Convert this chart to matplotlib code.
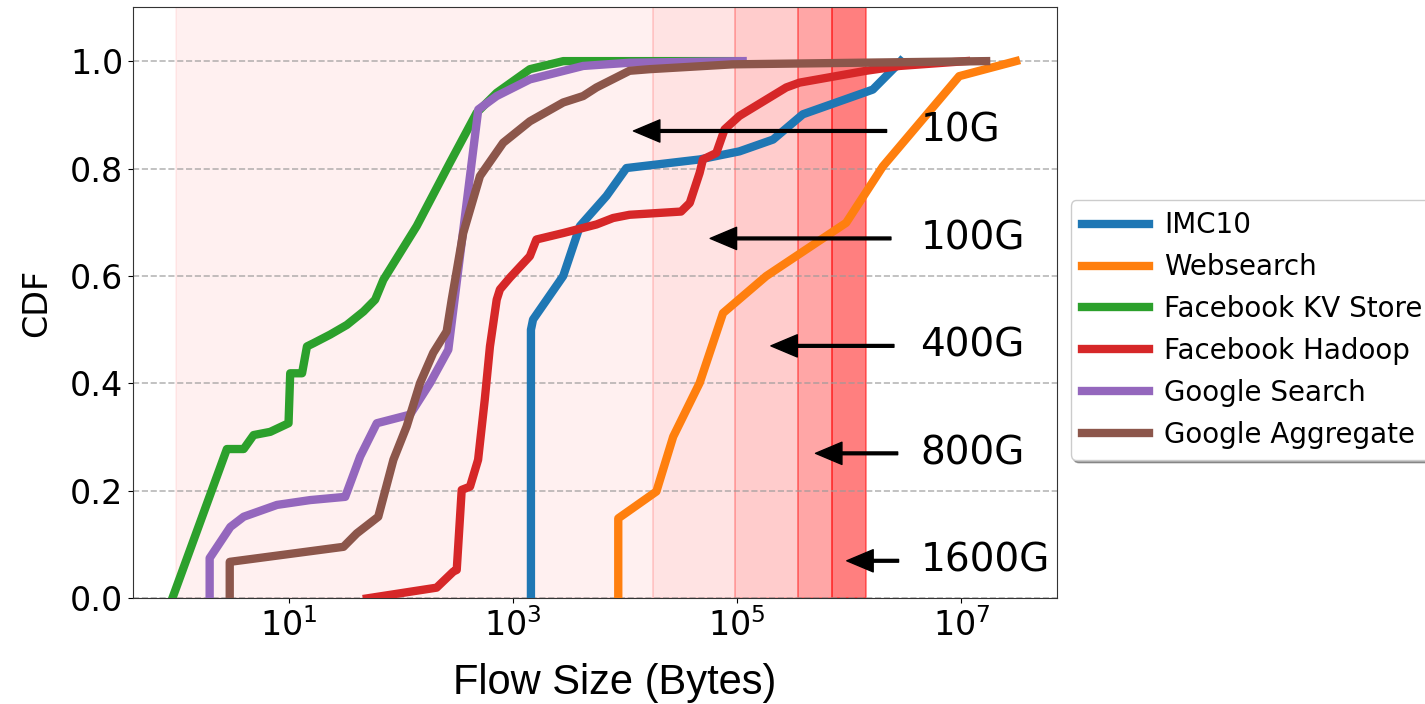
import matplotlib
matplotlib.use("Agg")
import matplotlib.pyplot as plt
from matplotlib import font_manager
from matplotlib.ticker import NullLocator

# flow size CDFs (bytes, cdf)
imc10_x = [1450, 1450, 1514, 2812, 3963, 6839, 10300, 46300, 104700, 209000, 385000, 1.62e6, 2.8e6, 2.88e6]
imc10_y = [0, 0.5, 0.519, 0.6, 0.693, 0.749, 0.801, 0.817, 0.832, 0.854, 0.901, 0.947, 0.997, 1.0]

websearch_x = [8710, 8710, 19050, 26900, 46300, 74800, 182000, 937000, 1.99e6, 9.55e6, 3.06e7]
websearch_y = [0, 0.149, 0.199, 0.301, 0.401, 0.531, 0.6, 0.699, 0.804, 0.972, 1.0]

fbkv_x = [0.92, 2.82, 3.98, 4.88, 6.87, 10.0, 10.35, 13.2, 14.6, 16.7, 23.5, 33.1, 46.6, 59.2,
          70.1, 139, 275, 476, 718, 1419, 2818, 1e5]
fbkv_y = [0, 0.278, 0.278, 0.304, 0.31, 0.326, 0.419, 0.419, 0.469, 0.475, 0.491, 0.509, 0.534, 0.556,
          0.593, 0.693, 0.811, 0.904, 0.941, 0.985, 1.0, 1.0]

hadoop_x = [50, 209, 295, 316, 350, 415, 490, 562, 625, 718, 767, 942, 1419, 1622, 2812, 5572, 7834,
            10965, 31600, 37800, 46300, 49500, 65200, 77300, 104700, 274000, 360000, 1.41e6, 2.8e6, 1.1e7]
hadoop_y = [0, 0.02, 0.05, 0.053, 0.202, 0.208, 0.258, 0.37, 0.469, 0.556, 0.575, 0.597, 0.637, 0.668,
            0.68, 0.696, 0.708, 0.714, 0.72, 0.736, 0.792, 0.817, 0.829, 0.873, 0.898, 0.951, 0.96,
            0.982, 0.991, 1.0]

gsearch_x = [1.98, 1.98, 3.03, 3.98, 7.89, 15.6, 32.0, 43.5, 61.2, 121, 183, 266, 492, 718, 1419,
             4236, 10965, 1.12e5]
gsearch_y = [0, 0.075, 0.133, 0.152, 0.174, 0.183, 0.189, 0.264, 0.326, 0.342, 0.401, 0.463, 0.91,
             0.935, 0.966, 0.991, 0.997, 1.0]

gagg_x = [2.99, 2.99, 30.9, 40.6, 63.1, 86.1, 113, 149, 195, 257, 285, 361, 509, 820, 1419, 2812,
          4236, 5572, 10965, 16600, 91200, 1.66e7]
gagg_y = [0, 0.068, 0.096, 0.121, 0.152, 0.258, 0.32, 0.401, 0.457, 0.497, 0.556, 0.68, 0.786, 0.848,
          0.888, 0.923, 0.935, 0.951, 0.982, 0.985, 0.994, 1.0]

series = [
    ("IMC10", imc10_x, imc10_y),
    ("Websearch", websearch_x, websearch_y),
    ("Facebook KV Store", fbkv_x, fbkv_y),
    ("Facebook Hadoop", hadoop_x, hadoop_y),
    ("Google Search", gsearch_x, gsearch_y),
    ("Google Aggregate", gagg_x, gagg_y),
]

# link speed regions (bytes)
speeds = ["10G", "100G", "400G", "800G", "1600G"]
region_edges = [1, 1.78e4, 9.5e4, 3.5e5, 7e5, 1.4e6]
region_alpha = [0.06, 0.11, 0.2, 0.35, 0.5]
arrow_tip = [1.19e4, 5.75e4, 2.0e5, 5.0e5, 9.5e5]
arrow_tail = [2.15e6, 2.35e6, 2.5e6, 2.7e6, 2.75e6]
arrow_y = [0.87, 0.67, 0.47, 0.27, 0.07]
label_x = 4.3e6

fig = plt.figure(figsize=(14.25, 7.04), dpi=100)
ax = fig.add_axes([0.0933, 0.150, 0.6484, 0.8395])

for i in range(len(speeds)):
    ax.axvspan(region_edges[i], region_edges[i + 1], facecolor='red', edgecolor='red',
               alpha=region_alpha[i], linewidth=1.2, zorder=0)

for name, xs, ys in series:
    ax.plot(xs, ys, linewidth=6, label=name, zorder=3)

for i, s in enumerate(speeds):
    ax.annotate('', xy=(arrow_tip[i], arrow_y[i]), xytext=(arrow_tail[i], arrow_y[i]),
                arrowprops=dict(facecolor='black', edgecolor='black', width=2,
                                headwidth=16, headlength=19, shrink=0), zorder=5)
    ax.text(label_x, arrow_y[i], s, fontsize=28, ha='left', va='center', zorder=5)

ax.set_xscale('log')
ax.set_xlim(0.41, 7.1e7)
ax.set_ylim(0, 1.1)
ax.set_xticks([1e1, 1e3, 1e5, 1e7])
ax.xaxis.set_minor_locator(NullLocator())
ax.set_yticks([0.0, 0.2, 0.4, 0.6, 0.8, 1.0])
ax.tick_params(labelsize=24)
ax.grid(axis='y', linestyle='--', color='0.6', alpha=0.7, linewidth=1.2)
ax.set_ylabel("CDF", fontsize=24, labelpad=12)
for sp in ax.spines.values():
    sp.set_color('0.2')

ax.legend(loc='center left', bbox_to_anchor=(1.0, 0.454), fontsize=20, shadow=True,
          handlelength=2.4, labelspacing=0.5, handletextpad=0.55)

names = {f.name for f in font_manager.fontManager.ttflist}
if 'Liberation Sans Narrow' in names:
    xfam, xsize = 'Liberation Sans Narrow', 34
else:
    xfam, xsize = 'Liberation Sans', 30
fig.text(615 / 1425, 1 - 683 / 704, "Flow Size (Bytes)", family=xfam, fontsize=xsize,
         ha='center', va='center')

fig.savefig("out.png", dpi=100)
